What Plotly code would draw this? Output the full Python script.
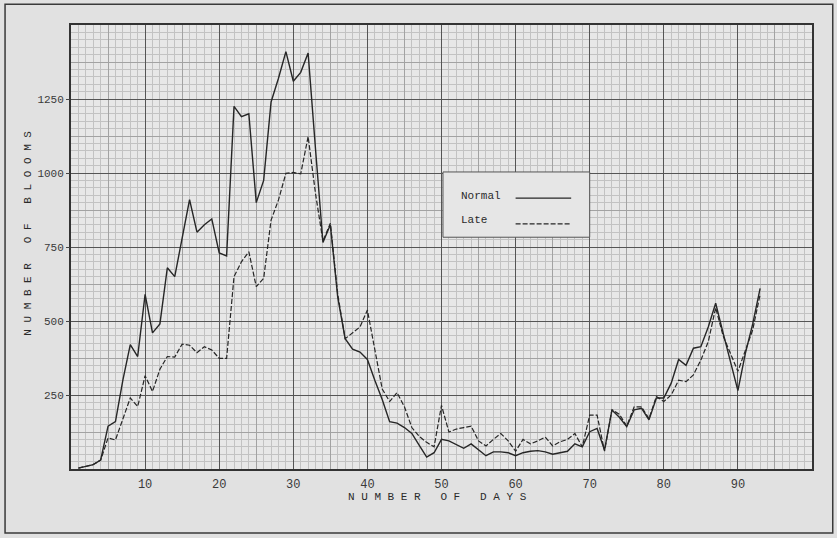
import plotly.graph_objects as go

# Days after first bloom
days = list(range(1, 94))

# Daily bloom counts, normal planting (solid line)
normal = [
    3, 8, 15, 30, 145, 160, 300, 420, 380, 590,
    460, 490, 680, 650, 780, 910, 800, 825, 845, 730,
    720, 1225, 1190, 1200, 900, 975, 1240, 1320, 1410, 1310,
    1340, 1405, 1080, 765, 825, 580, 440, 405, 395, 370,
    300, 235, 160, 155, 140, 120, 80, 40, 55, 100,
    95, 82, 70, 85, 65, 45, 58, 58, 55, 45,
    55, 60, 62, 58, 50, 55, 60, 85, 75, 126,
    137, 64, 199, 175, 143, 200, 205, 166, 240, 240,
    290, 370, 350, 408, 413, 480, 560, 460, 360, 265,
    390, 490, 610,
]

# Daily bloom counts, late planting (dashed line)
late = [
    3, 8, 15, 30, 105, 98, 170, 240, 211, 315,
    262, 337, 380, 378, 422, 418, 393, 413, 402, 374,
    374, 650, 700, 734, 616, 644, 841, 909, 999, 1002,
    997, 1123, 930, 770, 830, 590, 440, 460, 480, 537,
    400, 270, 228, 258, 210, 140, 110, 90, 75, 215,
    125, 135, 140, 145, 95, 78, 100, 120, 95, 60,
    100, 85, 95, 108, 78, 92, 100, 120, 75, 182,
    182, 60, 200, 185, 145, 210, 210, 170, 245, 228,
    250, 300, 295, 318, 368, 430, 545, 450, 390, 330,
    400, 470, 590,
]

x_ticks = [10, 20, 30, 40, 50, 60, 70, 80, 90]
y_ticks = [250, 500, 750, 1000, 1250]
x_mid = [5, 15, 25, 35, 45, 55, 65, 75, 85, 95]
y_mid = [125, 375, 625, 875, 1125, 1375]

ink = "#262626"
mono = "Liberation Mono, Courier New, monospace"

fig = go.Figure()
fig.add_trace(go.Scatter(x=days, y=normal, mode="lines", name="Normal",
                         line=dict(color=ink, width=1.4), showlegend=False))
fig.add_trace(go.Scatter(x=days, y=late, mode="lines", name="Late",
                         line=dict(color=ink, width=1.2, dash="5px,2px"),
                         showlegend=False))
# empty trace that carries the heavier 10-day / 250-bloom ruling
fig.add_trace(go.Scatter(x=[], y=[], xaxis="x2", yaxis="y2", showlegend=False))

fig.update_layout(
    width=837, height=538,
    margin=dict(l=71, r=25, t=25, b=69),
    paper_bgcolor="#e1e1e1",
    plot_bgcolor="#e7e7e7",
    xaxis=dict(
        range=[0, 100], tickvals=x_mid, ticktext=[""] * len(x_mid),
        showgrid=True, gridcolor="#a2a2a2", gridwidth=0.8,
        minor=dict(dtick=1, tick0=0, showgrid=True, gridcolor="#c2c2c2", gridwidth=0.6),
        showline=True, linecolor="#333", linewidth=1.5, mirror=True,
        ticks="", zeroline=False,
    ),
    yaxis=dict(
        range=[0, 1500], tickvals=y_mid, ticktext=[""] * len(y_mid),
        showgrid=True, gridcolor="#a2a2a2", gridwidth=0.8,
        minor=dict(dtick=25, tick0=0, showgrid=True, gridcolor="#c2c2c2", gridwidth=0.6),
        showline=True, linecolor="#333", linewidth=1.5, mirror=True,
        ticks="", zeroline=False,
    ),
    xaxis2=dict(
        range=[0, 100], overlaying="x", anchor="y2", side="bottom",
        tickvals=x_ticks, ticktext=[str(v) for v in x_ticks],
        showgrid=True, gridcolor="#555", gridwidth=1.2, zeroline=False,
        ticks="", tickfont=dict(family=mono, size=12, color="#3a3a3a"),
        ticklabelstandoff=6,
    ),
    yaxis2=dict(
        range=[0, 1500], overlaying="y", anchor="x2", side="left",
        tickvals=y_ticks, ticktext=[str(v) for v in y_ticks],
        showgrid=True, gridcolor="#555", gridwidth=1.2, zeroline=False,
        ticks="outside", ticklen=4, tickcolor="#444",
        tickfont=dict(family=mono, size=11, color="#3a3a3a"),
    ),
    showlegend=False,
)

# axis titles in spaced typewriter capitals
fig.add_annotation(text="N U M B E R   O F   D A Y S", xref="paper", yref="paper",
                   x=0.495, y=-0.063, xanchor="center", yanchor="middle",
                   showarrow=False,
                   font=dict(family=mono, size=11, color="#2a2a2a"))
fig.add_annotation(text="N U M B E R   O F   B L O O M S", xref="paper", yref="paper",
                   x=-0.058, y=0.53, xanchor="center", yanchor="middle",
                   showarrow=False, textangle=-90,
                   font=dict(family=mono, size=11, color="#2a2a2a"))

# key box with labels ahead of their line samples
fig.add_shape(type="rect", xref="paper", yref="paper", x0=0.502, x1=0.700,
              y0=0.522, y1=0.669, fillcolor="#e6e6e6",
              line=dict(color="#555", width=1), layer="above")
fig.add_annotation(text="Normal", xref="paper", yref="paper", x=0.523, y=0.615,
                   xanchor="left", yanchor="middle", showarrow=False,
                   font=dict(family=mono, size=11, color="#2a2a2a"))
fig.add_annotation(text="Late", xref="paper", yref="paper", x=0.523, y=0.56,
                   xanchor="left", yanchor="middle", showarrow=False,
                   font=dict(family=mono, size=11, color="#2a2a2a"))
fig.add_shape(type="line", xref="paper", yref="paper", x0=0.600, x1=0.675,
              y0=0.610, y1=0.610, line=dict(color=ink, width=1.2), layer="above")
fig.add_shape(type="line", xref="paper", yref="paper", x0=0.600, x1=0.675,
              y0=0.552, y1=0.552, line=dict(color=ink, width=1.2, dash="5px,2px"),
              layer="above")

# outer frame round the sheet
fig.add_shape(type="rect", xref="paper", yref="paper", x0=-0.089, x1=1.028,
              y0=-0.144, y1=1.047, line=dict(color="#3a3a3a", width=1.5))

fig.write_html("out.html")
